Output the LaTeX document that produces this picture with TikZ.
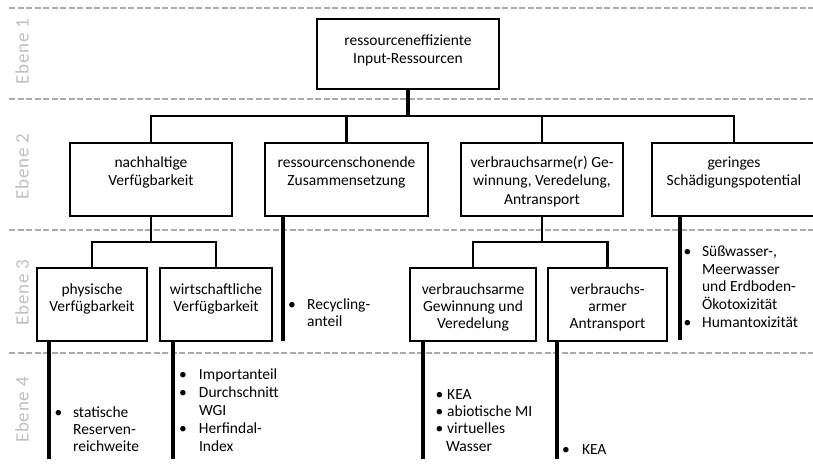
\documentclass[tikz,border=0pt]{standalone}
\usepackage{fontspec}
\setmainfont{Carlito}
% bullet item with a fixed-width bullet column, and the matching indent for continuation lines
\newcommand\itm[2][18.5pt]{\makebox[#1][l]{\textbullet}#2}
\newcommand\ind[1][18.5pt]{\hspace*{#1}}
\begin{document}
\begin{tikzpicture}[x=1pt,y=-1pt,
  lane/.style={draw=black!33, line width=2pt, dash pattern=on 6pt off 2.5pt},
  levellabel/.style={rotate=90, text=black!25, inner sep=0,
    font=\fontsize{19}{19}\selectfont\addfontfeature{LetterSpace=4}},
  box/.style={draw, line width=2.2pt, inner sep=0},
  boxtext/.style={anchor=north, align=center, inner sep=0, font=\fontsize{15.5}{18.5}\selectfont},
  boxtextsm/.style={boxtext, font=\fontsize{15.5}{17.3}\selectfont},
  link/.style={line width=2.2pt},
  trunk/.style={line width=3.4pt},
  stem/.style={line width=4pt},
  bullets/.style={anchor=north west, align=left, inner sep=0, font=\fontsize{15.5}{17.5}\selectfont},
]
\useasboundingbox (0,0) rectangle (813,466);
\clip (0,0) rectangle (813,466);

% level separators
\draw[lane] (9,8) -- (813,8);
\draw[lane] (9,99) -- (813,99);
\draw[lane] (9,230) -- (813,230);
\draw[lane] (9,353) -- (813,353);

% level captions
\node[levellabel] (lab1) at (22,51.5) {Ebene 1};
\node[levellabel] (lab2) at (22,166.5) {Ebene 2};
\node[levellabel] (lab3) at (22,292.5) {Ebene 3};
\node[levellabel] (lab4) at (22,410) {Ebene 4};

% level 1
\node[box, minimum width=182, minimum height=70] (root) at (408,54) {};
\node[boxtext] (rootT) at (408,32) {\strut ressourceneffiziente\\Input-Ressourcen};

% level 2
\node[box, minimum width=162, minimum height=73] (A) at (151,179.5) {};
\node[box, minimum width=163, minimum height=73] (B) at (346.5,179.5) {};
\node[box, minimum width=162, minimum height=73] (C) at (542,179.5) {};
\node[box, minimum width=164, minimum height=73] (D) at (734,179.5) {};
\node[boxtext] (AT) at (151,154) {\strut nachhaltige\\Verfügbarkeit};
\node[boxtext] (BT) at (346.5,154) {\strut ressourcenschonende\\Zusammensetzung};
\node[boxtext] (CT) at (542,154) {\strut verbrauchsarme(r) Ge-\\winnung, Veredelung,\\Antransport};
\node[boxtext] (DT) at (734,154) {\strut geringes\\Schädigungspotential};

% level 3
\node[box, minimum width=110, minimum height=73] (phys) at (92,304.5) {};
\node[box, minimum width=112, minimum height=73] (wirt) at (216,304.5) {};
\node[box, minimum width=126, minimum height=73] (gew) at (473,304.5) {};
\node[box, minimum width=119, minimum height=73] (trans) at (607.5,304.5) {};
\node[boxtextsm] (physT) at (92,282) {\strut physische\\Verfügbarkeit};
\node[boxtextsm] (wirtT) at (216,282) {\strut wirtschaftliche\\Verfügbarkeit};
\node[boxtextsm] (gewT) at (473,282) {\strut verbrauchsarme\\Gewinnung und\\Veredelung};
\node[boxtextsm] (transT) at (607.5,282) {\strut verbrauchs-\\armer\\Antransport};

% tree connectors
\coordinate (bus2) at (408,116);
\draw[trunk] (root.south) -- (bus2);
\draw[link] (A.north) |- (bus2) -| (D.north);
\draw[link] (B.north) -- (B.north |- bus2);
\draw[link] (C.north) -- (C.north |- bus2);

\coordinate (bus3a) at (151,242);
\draw[link] (A.south) -- (bus3a);
\draw[link] (phys.north) |- (bus3a) -| (wirt.north);

\coordinate (bus3c) at (542,242);
\draw[link] (C.south) -- (bus3c);
\draw[link] (gew.north) |- (bus3c) -| (trans.north);

% indicator stems
\coordinate (Bend) at (283,341);
\coordinate (Dend) at (680,340);
\coordinate (physEnd) at (49,459);
\coordinate (wirtEnd) at (173,459);
\coordinate (gewEnd) at (423,459);
\coordinate (transEnd) at (557,459);
\draw[stem] (B.south -| Bend) -- (Bend);
\draw[stem] (D.south -| Dend) -- (Dend);
\draw[stem] (phys.south -| physEnd) -- (physEnd);
\draw[stem] (wirt.south -| wirtEnd) -- (wirtEnd);
\draw[stem] (gew.south -| gewEnd) -- (gewEnd);
\draw[stem] (trans.south -| transEnd) -- (transEnd);

% indicator lists
\node[bullets] (recyc) at (288,297) {\strut\itm[19pt]{Recycling-}\\\ind[19pt]anteil};
\node[bullets, font=\fontsize{15.5}{17.7}\selectfont] (tox) at (683.4,244)
  {\strut\itm{Süßwasser-,}\\\ind Meerwasser\\\ind und Erdboden-\\\ind Ökotoxizität\\\itm{Humantoxizität}};
\node[bullets, font=\fontsize{15.5}{17}\selectfont] (reserve) at (54.4,405)
  {\strut\itm{statische}\\\ind Reserven-\\\ind reichweite};
\node[bullets, font=\fontsize{15.5}{18}\selectfont] (import) at (178.8,367)
  {\strut\itm[20pt]{Importanteil}\\\itm[20pt]{Durchschnitt}\\\ind[20pt]WGI\\\itm[20pt]{Herfindal-}\\\ind[20pt]Index};
\node[bullets, font=\fontsize{15.5}{17.3}\selectfont] (kea) at (435.4,387)
  {\strut\itm[11.6pt]{KEA}\\\itm[11.6pt]{abiotische MI}\\\itm[11.6pt]{virtuelles}\\\ind[10.5pt]Wasser};
\node[bullets] (kea2) at (561.8,442) {\strut\itm[20pt]{KEA}};
\end{tikzpicture}
\end{document}
